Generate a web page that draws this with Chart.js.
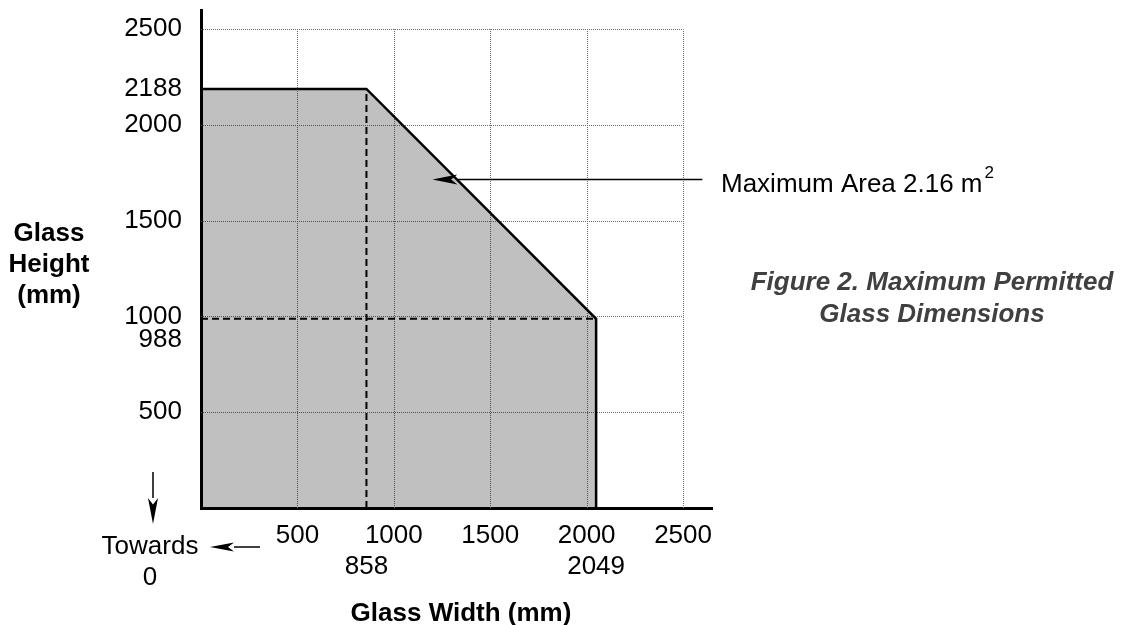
<!DOCTYPE html>
<html>
<head>
<meta charset="utf-8">
<title>Maximum Permitted Glass Dimensions</title>
<script src="https://cdn.jsdelivr.net/npm/chart.js@4.4.1/dist/chart.umd.min.js"></script>
<style>
  html, body { margin: 0; padding: 0; background: #fff; }
  canvas { display: block; }
</style>
</head>
<body>
<canvas id="glassChart" width="1128" height="625"></canvas>
<script>
// outline of the permitted region (width, height in mm)
const limitWidths = [0, 858, 2049, 2049];
const limitHeights = [2188, 2188, 988, 0];

// dashed guide lines
const guideVertX = [858, 858];
const guideVertY = [0, 2188];
const guideHorzX = [0, 2049];
const guideHorzY = [988, 988];

// axis ticks; the odd values are printed on a second row
const xTicks = [500, 858, 1000, 1500, 2000, 2049, 2500];
const yTicks = [500, 988, 1000, 1500, 2000, 2188, 2500];
const xSecondRow = [858, 2049];
const ySecondRow = [988];
const gridValues = [500, 1000, 1500, 2000, 2500];

const toPoints = (xs, ys) => xs.map((x, i) => ({ x: x, y: ys[i] }));

const FONT = "'Liberation Sans', Arial, sans-serif";
Chart.defaults.font.family = FONT;
Chart.defaults.font.size = 26;
Chart.defaults.color = '#000';

// dotted grid, only inside the 0..2500 box
const dottedGrid = {
    id: 'dottedGrid',
    beforeDatasetsDraw(chart) {
        const { ctx, scales: { x, y } } = chart;
        const x0 = x.getPixelForValue(0), x1 = x.getPixelForValue(2500);
        const y0 = y.getPixelForValue(0), y1 = y.getPixelForValue(2500);
        ctx.save();
        ctx.strokeStyle = '#6e6e6e';
        ctx.lineWidth = 1;
        ctx.setLineDash([1, 1]);
        gridValues.forEach(v => {
            const px = Math.round(x.getPixelForValue(v)) + 0.5;
            ctx.beginPath();
            ctx.moveTo(px, y0);
            ctx.lineTo(px, y1);
            ctx.stroke();
            const py = Math.round(y.getPixelForValue(v)) + 0.5;
            ctx.beginPath();
            ctx.moveTo(x0, py);
            ctx.lineTo(x1, py);
            ctx.stroke();
        });
        ctx.restore();
    }
};

function arrow(ctx, fromX, fromY, toX, toY, headLen, headHalf) {
    const ang = Math.atan2(toY - fromY, toX - fromX);
    const bx = toX - headLen * Math.cos(ang), by = toY - headLen * Math.sin(ang);
    ctx.beginPath();
    ctx.moveTo(fromX, fromY);
    ctx.lineTo(bx, by);
    ctx.stroke();
    ctx.beginPath();
    ctx.moveTo(toX, toY);
    ctx.lineTo(bx + headHalf * Math.sin(ang), by - headHalf * Math.cos(ang));
    ctx.lineTo(bx + headLen * 0.25 * Math.cos(ang), by + headLen * 0.25 * Math.sin(ang));
    ctx.lineTo(bx - headHalf * Math.sin(ang), by + headHalf * Math.cos(ang));
    ctx.closePath();
    ctx.fill();
}

// titles, notes and arrows
const notes = {
    id: 'notes',
    afterDraw(chart) {
        const { ctx, scales: { x, y } } = chart;
        ctx.save();
        ctx.fillStyle = '#000';
        ctx.strokeStyle = '#000';
        ctx.lineWidth = 1.5;
        ctx.textBaseline = 'alphabetic';

        // y title, horizontal, three lines
        ctx.font = 'bold 26px ' + FONT;
        ctx.textAlign = 'center';
        ['Glass', 'Height', '(mm)'].forEach((t, i) => ctx.fillText(t, 49, 241 + i * 31));

        // x title
        ctx.fillText('Glass Width (mm)', 461, 621);

        // towards 0
        ctx.font = '26px ' + FONT;
        ctx.fillText('Towards', 150, 554);
        ctx.fillText('0', 150, 585);
        arrow(ctx, 153, 472, 153, 524, 26, 5);
        arrow(ctx, 260, 547, 210, 547, 24, 4.5);

        // maximum area note
        const tipX = x.getPixelForValue(1200), tipY = y.getPixelForValue(1715);
        arrow(ctx, x.getPixelForValue(2600), tipY, tipX, tipY, 25, 5);
        ctx.textAlign = 'left';
        const label = 'Maximum Area 2.16 m';
        ctx.fillText(label, 721, 192);
        const w = ctx.measureText(label).width;
        ctx.font = '17px ' + FONT;
        ctx.fillText('2', 721 + w + 2, 178);

        // caption
        ctx.font = 'italic bold 26px ' + FONT;
        ctx.fillStyle = '#404040';
        ctx.textAlign = 'center';
        ctx.fillText('Figure 2. Maximum Permitted', 932, 290);
        ctx.fillText('Glass Dimensions', 932, 322);
        ctx.restore();
    }
};

new Chart(document.getElementById('glassChart'), {
    type: 'scatter',
    data: {
        datasets: [
            {
                data: toPoints(guideVertX, guideVertY),
                showLine: true,
                borderColor: '#000',
                borderWidth: 2,
                borderDash: [7, 4],
                pointRadius: 0,
                fill: false
            },
            {
                data: toPoints(guideHorzX, guideHorzY),
                showLine: true,
                borderColor: '#000',
                borderWidth: 2,
                borderDash: [7, 4],
                pointRadius: 0,
                fill: false
            },
            {
                data: toPoints(limitWidths, limitHeights),
                showLine: true,
                borderColor: '#000',
                borderWidth: 2.5,
                backgroundColor: 'rgba(0, 0, 0, 0.247)',
                fill: 'origin',
                pointRadius: 0,
                tension: 0
            }
        ]
    },
    options: {
        responsive: false,
        animation: false,
        events: [],
        layout: {
            padding: { left: 101, right: 416, top: 10, bottom: 37 }
        },
        scales: {
            x: {
                type: 'linear',
                min: 0,
                max: 2650,
                grid: { display: false, drawTicks: false },
                border: { display: true, color: '#000', width: 3 },
                afterBuildTicks: (scale) => {
                    scale.ticks = xTicks.map(v => ({ value: v }));
                },
                afterFit: (scale) => {
                    scale.height = 80;
                    scale.paddingLeft = 0;
                    scale.paddingRight = 0;
                },
                ticks: {
                    autoSkip: false,
                    maxRotation: 0,
                    padding: 12,
                    color: '#000',
                    callback: (v) => xSecondRow.includes(v) ? ['', String(v)] : String(v)
                }
            },
            y: {
                type: 'linear',
                min: 0,
                max: 2600,
                grid: { display: false, drawTicks: false },
                border: { display: true, color: '#000', width: 3 },
                afterBuildTicks: (scale) => {
                    scale.ticks = yTicks.map(v => ({ value: v }));
                },
                afterFit: (scale) => {
                    scale.width = 100;
                    scale.paddingTop = 0;
                    scale.paddingBottom = 0;
                },
                ticks: {
                    autoSkip: false,
                    padding: 19,
                    color: '#000',
                    font: (c) => ({
                        size: 26,
                        lineHeight: c.tick && ySecondRow.includes(c.tick.value) ? 1.6 : 1.2
                    }),
                    callback: (v) => ySecondRow.includes(v) ? ['', String(v)] : String(v)
                }
            }
        },
        plugins: {
            legend: { display: false },
            tooltip: { enabled: false }
        }
    },
    plugins: [dottedGrid, notes]
});
</script>
</body>
</html>
